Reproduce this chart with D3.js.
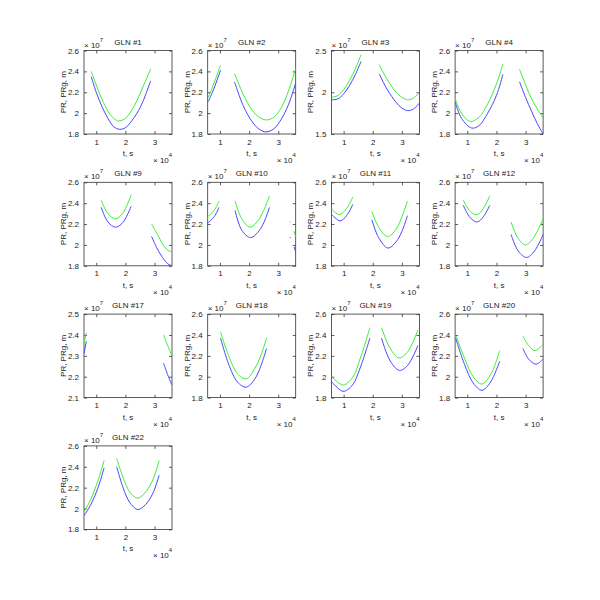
<!DOCTYPE html>
<html><head><meta charset="utf-8">
<script src="https://cdn.jsdelivr.net/npm/d3@7/dist/d3.min.js"></script>
<style>body{margin:0;background:#fff}svg text{font-family:"Liberation Sans",Arial,sans-serif;fill:#222}</style>
</head><body><svg id="c" width="600" height="600"></svg>
<script>
// ---- data (t in 1e4 s, range in 1e7 m) ----
const glnIds = [1,2,3,4,9,10,11,12,17,18,19,20,22];
const xDomain = [0.58, 3.6];
const xTicks = [1,2,3];
const yDomains = [[1.8,2.6],[1.8,2.6],[1.5,2.5],[1.8,2.6],[1.8,2.6],[1.8,2.6],[1.8,2.6],[1.8,2.6],[2.1,2.5],[1.8,2.6],[1.8,2.6],[1.8,2.6],[1.8,2.6]];
const yTicksList = [
  [1.8,2,2.2,2.4,2.6],[1.8,2,2.2,2.4,2.6],[1.5,2,2.5],[1.8,2,2.2,2.4,2.6],
  [1.8,2,2.2,2.4,2.6],[1.8,2,2.2,2.4,2.6],[1.8,2,2.2,2.4,2.6],[1.8,2,2.2,2.4,2.6],
  [2.1,2.2,2.3,2.4,2.5],[1.8,2,2.2,2.4,2.6],[1.8,2,2.2,2.4,2.6],[1.8,2,2.2,2.4,2.6],[1.8,2,2.2,2.4,2.6]];
// PRg (green) segments per panel
const greenSegs = [
  [[[0.83,2.40],[1.0,2.27],[1.2,2.13],[1.4,2.02],[1.6,1.95],[1.77,1.925],[2.0,1.95],[2.2,2.02],[2.4,2.12],[2.6,2.25],[2.87,2.425]]],
  [[[0.6,2.15],[0.8,2.29],[1.02,2.46]],
   [[1.5,2.38],[1.8,2.18],[2.1,2.03],[2.35,1.96],[2.6,1.935],[2.85,1.96],[3.1,2.05],[3.35,2.21],[3.6,2.43]]],
  [[[0.6,1.94],[0.8,1.96],[1.0,2.03],[1.2,2.14],[1.4,2.28],[1.6,2.45]],
   [[2.22,2.33],[2.5,2.15],[2.8,2.0],[3.0,1.94],[3.2,1.91],[3.4,1.93],[3.6,2.0]]],
  [[[0.58,2.14],[0.8,2.0],[1.1,1.92],[1.4,1.96],[1.7,2.09],[2.0,2.28],[2.22,2.47]],
   [[2.79,2.42],[3.0,2.27],[3.2,2.14],[3.4,2.04],[3.6,1.955]]],
  [[[1.17,2.43],[1.4,2.3],[1.66,2.25],[1.9,2.3],[2.2,2.48]],
   [[2.9,2.2],[3.1,2.1],[3.3,2.0],[3.45,1.95],[3.6,1.935]]],
  [[[0.58,2.27],[0.8,2.33],[0.97,2.42]],
   [[1.52,2.42],[1.75,2.25],[2.03,2.17],[2.3,2.23],[2.5,2.33],[2.7,2.47]],
   [[3.40,2.225],[3.42,2.215]],
   [[3.54,2.13],[3.6,2.08]]],
  [[[0.6,2.34],[0.85,2.29],[1.1,2.35],[1.32,2.46]],
   [[1.97,2.32],[2.2,2.17],[2.5,2.08],[2.8,2.15],[3.0,2.27],[3.19,2.42]]],
  [[[0.86,2.43],[1.1,2.32],[1.34,2.29],[1.55,2.35],[1.77,2.47]],
   [[2.5,2.22],[2.75,2.06],[3.0,2.0],[3.25,2.06],[3.6,2.25]]],
  [[[0.58,2.36],[0.66,2.41]],
   [[3.31,2.40],[3.45,2.35],[3.6,2.30]]],
  [[[1.02,2.43],[1.3,2.2],[1.6,2.03],[1.9,1.98],[2.2,2.08],[2.4,2.2],[2.6,2.37]]],
  [[[0.6,2.0],[0.98,1.92],[1.3,1.99],[1.6,2.2],[1.9,2.47]],
   [[2.3,2.47],[2.6,2.27],[2.9,2.18],[3.2,2.24],[3.55,2.45]]],
  [[[0.6,2.40],[0.9,2.18],[1.2,2.0],[1.49,1.93],[1.8,2.02],[2.11,2.25]],
   [[2.91,2.39],[3.1,2.3],[3.33,2.25],[3.6,2.31]]],
  [[[0.58,1.97],[0.8,2.08],[1.05,2.26],[1.27,2.46]],
   [[1.7,2.48],[2.0,2.24],[2.2,2.14],[2.43,2.1],[2.7,2.16],[2.95,2.28],[3.16,2.46]]]
];
// PR (blue) segments per panel
const blueSegs = [
  [[[0.83,2.35],[1.0,2.2],[1.2,2.06],[1.4,1.95],[1.6,1.87],[1.8,1.845],[2.0,1.86],[2.2,1.92],[2.4,2.0],[2.6,2.11],[2.87,2.31]]],
  [[[0.6,2.11],[0.8,2.24],[1.02,2.41]],
   [[1.5,2.30],[1.8,2.07],[2.1,1.92],[2.35,1.845],[2.58,1.82],[2.85,1.85],[3.1,1.94],[3.35,2.08],[3.6,2.29]]],
  [[[0.6,1.91],[0.8,1.92],[1.0,1.98],[1.2,2.08],[1.4,2.21],[1.6,2.37]],
   [[2.22,2.22],[2.5,2.03],[2.8,1.88],[3.0,1.81],[3.2,1.78],[3.4,1.8],[3.6,1.87]]],
  [[[0.58,2.11],[0.8,1.95],[1.15,1.857],[1.4,1.88],[1.7,2.0],[2.0,2.17],[2.22,2.37]],
   [[2.79,2.30],[3.0,2.15],[3.2,2.02],[3.4,1.9],[3.6,1.80]]],
  [[[1.17,2.36],[1.4,2.22],[1.66,2.17],[1.9,2.21],[2.2,2.37]],
   [[2.9,2.08],[3.1,1.96],[3.3,1.87],[3.45,1.82],[3.6,1.8]]],
  [[[0.58,2.21],[0.8,2.27],[0.97,2.36]],
   [[1.52,2.33],[1.75,2.14],[2.05,2.07],[2.3,2.12],[2.5,2.21],[2.7,2.36]],
   [[3.40,2.075],[3.42,2.065]],
   [[3.55,1.98],[3.6,1.93]]],
  [[[0.6,2.29],[0.88,2.23],[1.1,2.28],[1.32,2.39]],
   [[1.97,2.24],[2.2,2.07],[2.52,1.97],[2.8,2.03],[3.0,2.13],[3.19,2.28]]],
  [[[0.86,2.38],[1.1,2.26],[1.34,2.22],[1.55,2.27],[1.77,2.38]],
   [[2.5,2.1],[2.75,1.94],[3.03,1.88],[3.3,1.94],[3.6,2.1]]],
  [[[0.58,2.31],[0.66,2.37]],
   [[3.31,2.265],[3.45,2.21],[3.6,2.16]]],
  [[[1.02,2.37],[1.3,2.12],[1.6,1.95],[1.9,1.9],[2.2,1.98],[2.4,2.1],[2.6,2.27]]],
  [[[0.6,1.95],[0.98,1.86],[1.3,1.92],[1.6,2.11],[1.9,2.37]],
   [[2.3,2.37],[2.6,2.15],[2.92,2.06],[3.2,2.11],[3.55,2.3]]],
  [[[0.6,2.37],[0.9,2.12],[1.2,1.94],[1.5,1.87],[1.8,1.95],[2.11,2.15]],
   [[2.91,2.27],[3.1,2.17],[3.36,2.12],[3.6,2.17]]],
  [[[0.58,1.93],[0.8,2.03],[1.05,2.19],[1.27,2.39]],
   [[1.7,2.40],[2.0,2.14],[2.2,2.04],[2.43,1.99],[2.7,2.04],[2.95,2.15],[3.16,2.32]]]
];

// ---- layout ----
const svg = d3.select("#c");
const W = 88, H = 83.5, X0 = 84, Y0 = 50.5, DX = 123.7, DY = 131.8;
const greenColor = "#3aee3a", blueColor = "#4646ff";
const fs = 8;

glnIds.forEach((id, i) => {
  const col = i % 4, row = Math.floor(i / 4);
  const left = X0 + col * DX, top = Y0 + row * DY;
  const g = svg.append("g").attr("transform", `translate(${left},${top})`);
  const x = d3.scaleLinear().domain(xDomain).range([0, W]);
  const y = d3.scaleLinear().domain(yDomains[i]).range([H, 0]);

  const cid = "clip" + i;
  g.append("clipPath").attr("id", cid).append("rect").attr("width", W).attr("height", H);

  // axes with inward ticks
  const axB = d3.axisBottom(x).tickValues(xTicks).tickSize(-3).tickPadding(5).tickFormat(d3.format("d"));
  const axT = d3.axisTop(x).tickValues(xTicks).tickSize(-3).tickFormat("");
  const axL = d3.axisLeft(y).tickValues(yTicksList[i]).tickSize(-3).tickPadding(5).tickFormat(d => String(+d.toFixed(1)));
  const axR = d3.axisRight(y).tickValues(yTicksList[i]).tickSize(-3).tickFormat("");
  const styleAx = s => { s.selectAll("path,line").attr("stroke", "#333").attr("stroke-width", 0.8);
    s.selectAll("text").attr("font-size", fs).attr("fill", "#222").attr("font-family", "Liberation Sans, Arial, sans-serif"); };
  g.append("g").attr("transform", `translate(0,${H})`).call(axB).call(styleAx).call(s => s.select(".domain").remove());
  g.append("g").call(axT).call(styleAx).call(s => s.select(".domain").remove());
  g.append("g").call(axL).call(styleAx).call(s => s.select(".domain").remove());
  g.append("g").attr("transform", `translate(${W},0)`).call(axR).call(styleAx).call(s => s.select(".domain").remove());
  g.append("rect").attr("width", W).attr("height", H).attr("fill", "none").attr("stroke", "#333").attr("stroke-width", 0.8);

  const line = d3.line().x(d => x(d[0])).y(d => y(d[1])).curve(d3.curveCatmullRom);
  const lg = g.append("g").attr("clip-path", `url(#${cid})`);
  greenSegs[i].forEach(seg => lg.append("path").attr("d", line(seg)).attr("fill", "none").attr("stroke", greenColor).attr("stroke-width", 1));
  blueSegs[i].forEach(seg => lg.append("path").attr("d", line(seg)).attr("fill", "none").attr("stroke", blueColor).attr("stroke-width", 1));

  // title
  g.append("text").attr("x", W / 2).attr("y", -6).attr("text-anchor", "middle").attr("font-size", fs).text("GLN #" + id);
  // y exponent
  const ye = g.append("text").attr("x", 0).attr("y", -3).attr("font-size", fs);
  ye.append("tspan").text("\u00d7 10");
  ye.append("tspan").attr("dy", -6).attr("font-size", 6).text("7");
  // x label
  g.append("text").attr("x", W / 2).attr("y", H + 22).attr("text-anchor", "middle").attr("font-size", fs).text("t, s");
  // x exponent
  const xe = g.append("text").attr("x", W - 19).attr("y", H + 29).attr("font-size", fs);
  xe.append("tspan").text("\u00d7 10");
  xe.append("tspan").attr("dy", -6).attr("font-size", 6).text("4");
  // y label
  g.append("text").attr("transform", `translate(-18,${H / 2}) rotate(-90)`).attr("text-anchor", "middle").attr("font-size", fs).text("PR, PRg, m");
});
</script></body></html>
